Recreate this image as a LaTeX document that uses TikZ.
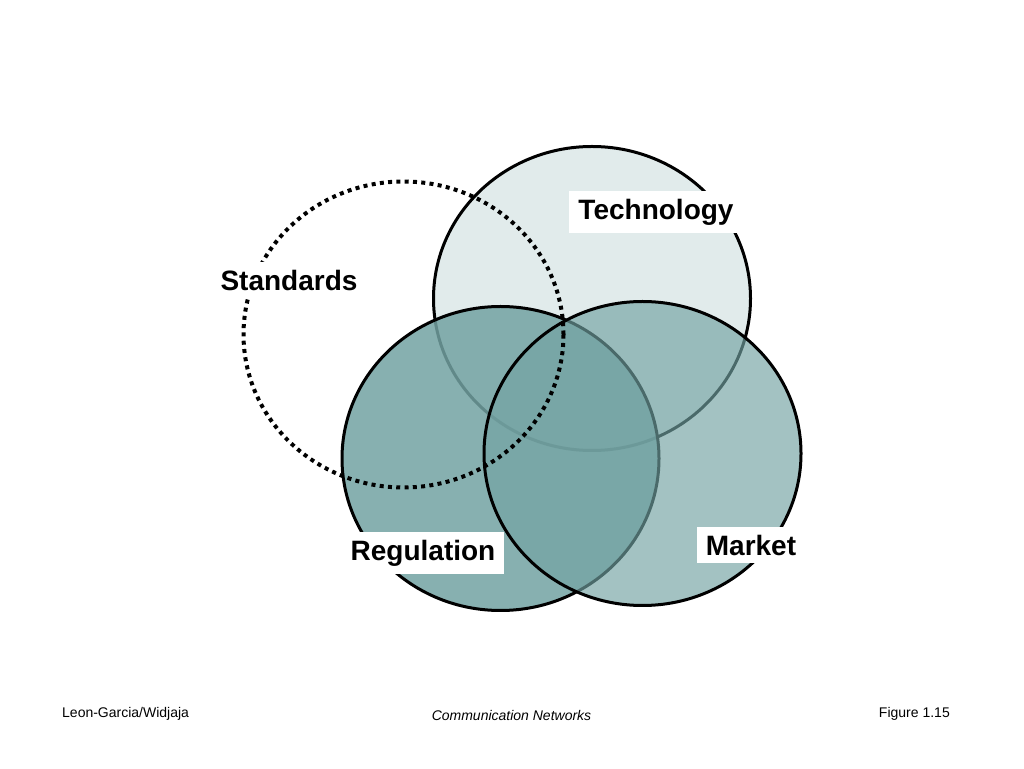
\documentclass[tikz,border=0pt]{standalone}
\usepackage{fontspec}
\setmainfont{Liberation Sans}
\usetikzlibrary{shapes.geometric}
\definecolor{teal1}{RGB}{114,162,162}
\tikzset{
  set/.style={ellipse, minimum width=317pt, minimum height=304pt, inner sep=0pt,
    draw=black, line width=3pt, fill=teal1},
  stdset/.style={ellipse, minimum width=320pt, minimum height=306pt, inner sep=0pt,
    draw=black, line width=4pt, dash pattern=on 4pt off 4.3pt},
  lbl/.style={fill=white, font=\fontsize{28}{30}\selectfont\bfseries, inner xsep=9pt, inner ysep=8pt},
  foot/.style={font=\fontsize{14}{16}\selectfont, inner sep=0pt}
}
\begin{document}
\begin{tikzpicture}[x=1pt,y=1pt]
\useasboundingbox (0,0) rectangle (1024,768);
\node[set, fill opacity=0.21] (tech) at (592,469.5) {};
\node[set, fill opacity=0.85] (reg) at (500.5,309.5) {};
\node[set, fill opacity=0.655] (mkt) at (642.5,314.5) {};
\node[stdset] (std) at (403.5,433.5) {};
\node[lbl] (techl) at (656,556) {Technology};
\node[lbl] (stdl) at (289,488) {Standards};
\node[lbl] (regl) at (423,215) {Regulation};
\node[lbl] (mktl) at (751,223) {Market};
\node[foot, anchor=west] (auth) at (62,54) {Leon-Garcia/Widjaja};
\node[foot, font=\fontsize{14}{16}\selectfont\itshape] (book) at (511.5,53) {Communication Networks};
\node[foot, anchor=east] (fig) at (950,54) {Figure 1.15};
\end{tikzpicture}
\end{document}
